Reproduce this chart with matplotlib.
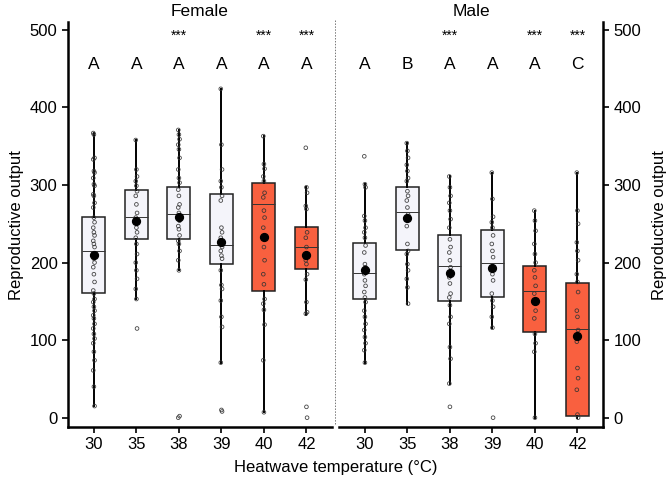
import matplotlib

matplotlib.use("Agg")

import matplotlib.pyplot as plt
from matplotlib.lines import Line2D

plt.rcParams["font.family"] = ["Liberation Sans", "DejaVu Sans"]

temps = ["30", "35", "38", "39", "40", "42"]
hot_groups = ["40", "42"]

# box statistics: q1, median, q3, whisker low, whisker high, mean
female_q1 = [161, 230, 231, 198, 163, 192]
female_med = [215, 259, 263, 223, 275, 220]
female_q3 = [259, 293, 298, 288, 302, 246]
female_lo = [15, 153, 190, 71, 7, 133]
female_hi = [367, 358, 371, 424, 363, 297]
female_mean = [210, 254, 259, 227, 233, 210]

male_q1 = [153, 216, 151, 155, 110, 2]
male_med = [187, 265, 195, 200, 163, 114]
male_q3 = [225, 297, 235, 242, 195, 174]
male_lo = [71, 147, 44, 116, 0, 0]
male_hi = [301, 354, 311, 316, 267, 316]
male_mean = [191, 257, 186, 193, 150, 105]

female_points = [
    [367, 365, 335, 333, 318, 316, 309, 301, 299, 288, 286, 277, 271, 258, 252, 245,
     239, 235, 228, 224, 220, 211, 205, 200, 194, 185, 175, 164, 160, 153, 149, 143,
     138, 132, 128, 121, 115, 108, 102, 96, 85, 74, 61, 40, 15],
    [358, 320, 311, 305, 299, 292, 286, 275, 264, 258, 245, 239, 232, 224, 211, 200,
     190, 179, 166, 153, 115],
    [371, 365, 359, 352, 346, 335, 320, 309, 303, 294, 286, 275, 271, 264, 254, 247,
     243, 235, 228, 224, 215, 203, 190, 2, 0],
    [424, 352, 320, 305, 297, 286, 280, 245, 239, 232, 228, 220, 215, 209, 205, 190,
     171, 166, 151, 130, 117, 71, 10, 8],
    [363, 327, 321, 311, 305, 290, 284, 267, 258, 245, 220, 203, 185, 172, 153, 147,
     139, 120, 74, 7],
    [348, 297, 290, 273, 269, 239, 232, 220, 211, 203, 198, 185, 178, 149, 136, 134,
     14, 0],
]

male_points = [
    [337, 301, 297, 260, 254, 245, 239, 232, 222, 213, 198, 194, 185, 177, 170, 162,
     155, 149, 138, 130, 121, 113, 104, 96, 87, 71],
    [354, 344, 335, 326, 318, 309, 305, 292, 286, 280, 271, 262, 247, 224, 215, 211,
     198, 190, 179, 168, 147],
    [311, 297, 286, 277, 267, 256, 245, 230, 220, 213, 203, 194, 181, 173, 160, 155,
     145, 130, 121, 91, 76, 44, 14],
    [316, 282, 259, 252, 245, 235, 224, 215, 207, 194, 185, 177, 160, 151, 143, 130,
     116, 0],
    [267, 254, 241, 224, 211, 200, 190, 181, 170, 160, 151, 138, 128, 108, 96, 85, 0],
    [316, 267, 250, 226, 215, 203, 185, 175, 162, 138, 130, 113, 98, 64, 51, 36, 4, 0],
]

female_letters = ["A", "A", "A", "A", "A", "A"]
male_letters = ["A", "B", "A", "A", "A", "C"]
female_stars = ["", "", "***", "", "***", "***"]
male_stars = ["", "", "***", "", "***", "***"]

LIGHT = "#f4f4fa"
RED = "#f9603f"


def draw_panel(ax, q1, med, q3, lo, hi, mean, points, letters, stars, title):
    positions = list(range(len(temps)))
    stats = []
    for i in positions:
        stats.append({"q1": q1[i], "med": med[i], "q3": q3[i],
                      "whislo": lo[i], "whishi": hi[i], "fliers": []})
    parts = ax.bxp(stats, positions=positions, widths=0.54, patch_artist=True,
                   showcaps=False, showfliers=False,
                   boxprops={"edgecolor": "#222222", "linewidth": 1.1},
                   whiskerprops={"color": "black", "linewidth": 1.4},
                   medianprops={"color": "#333333", "linewidth": 0.7},
                   zorder=2)
    for label, box in zip(temps, parts["boxes"]):
        box.set_facecolor(RED if label in hot_groups else LIGHT)

    for i, values in enumerate(points):
        offsets = [((k % 3) - 1) * 0.015 for k in range(len(values))]
        ax.scatter([i + o for o in offsets], values, s=7, facecolors="none",
                   edgecolors="#333333", linewidths=0.6, alpha=0.9, zorder=3)
    ax.scatter(positions, mean, s=32, color="black", zorder=4)

    for i in positions:
        ax.text(i, 456, letters[i], ha="center", va="center", fontsize=12.5)
        if stars[i]:
            ax.text(i, 492, stars[i], ha="center", va="center", fontsize=10)

    ax.set_xlim(-0.61, 5.6)
    ax.set_ylim(-12, 510)
    ax.set_xticks(positions)
    ax.set_xticklabels(temps, fontsize=12)
    ax.set_yticks([0, 100, 200, 300, 400, 500])
    ax.tick_params(axis="both", labelsize=12, width=1.2, length=4)
    ax.text(0.5, 1.027, title, transform=ax.transAxes, ha="center", va="center",
            fontsize=12.5)
    for side in ["top", "left", "right"]:
        ax.spines[side].set_visible(False)
    ax.spines["bottom"].set_linewidth(1.8)


fig = plt.figure(figsize=(6.71, 4.78), dpi=100)
ax1 = fig.add_axes([0.1013, 0.1067, 0.3934, 0.847])
ax2 = fig.add_axes([0.5052, 0.1067, 0.3934, 0.847])

draw_panel(ax1, female_q1, female_med, female_q3, female_lo, female_hi, female_mean,
           female_points, female_letters, female_stars, "Female")
draw_panel(ax2, male_q1, male_med, male_q3, male_lo, male_hi, male_mean,
           male_points, male_letters, male_stars, "Male")

ax1.spines["left"].set_visible(True)
ax1.spines["left"].set_linewidth(1.8)
ax1.set_ylabel("Reproductive output", fontsize=12)

ax2.spines["right"].set_visible(True)
ax2.spines["right"].set_linewidth(1.8)
ax2.yaxis.tick_right()
ax2.yaxis.set_label_position("right")
ax2.set_ylabel("Reproductive output", fontsize=12, labelpad=8)

fig.text(0.5, 0.022, "Heatwave temperature (°C)", ha="center", va="center", fontsize=12)
fig.add_artist(Line2D([335 / 671, 335 / 671], [0.112, 0.958], color="#777777",
                      linewidth=0.7, linestyle=(0, (1.5, 1.5))))

fig.savefig("out.png", dpi=100)
